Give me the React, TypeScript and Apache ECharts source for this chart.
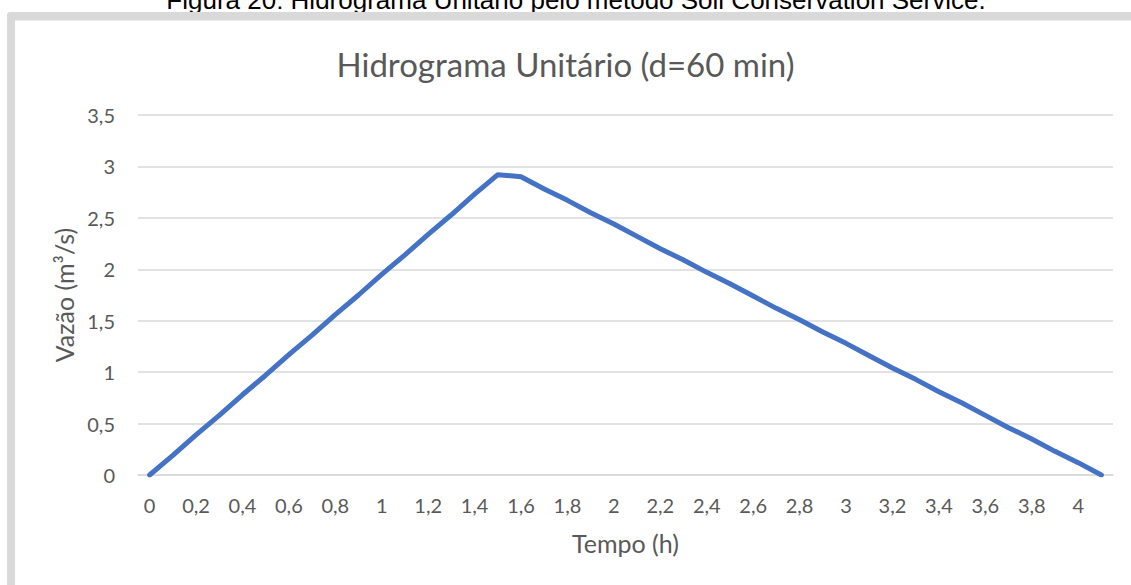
import React, { useEffect, useRef } from "react";
import * as echarts from "echarts";

const caption = "Figura 20: Hidrograma Unitário pelo método Soil Conservation Service.";
const chartTitle = "Hidrograma Unitário (d=60 min)";
const xName = "Tempo (h)";
const yName = "Vazão (m³/s)";

// time (h) categories, step 0.1
const times = [
  "0", "0,1", "0,2", "0,3", "0,4", "0,5", "0,6", "0,7", "0,8", "0,9",
  "1", "1,1", "1,2", "1,3", "1,4", "1,5", "1,6", "1,7", "1,8", "1,9",
  "2", "2,1", "2,2", "2,3", "2,4", "2,5", "2,6", "2,7", "2,8", "2,9",
  "3", "3,1", "3,2", "3,3", "3,4", "3,5", "3,6", "3,7", "3,8", "3,9",
  "4", "4,1",
];

// discharge (m³/s)
const flows = [
  0, 0.19, 0.39, 0.58, 0.78, 0.97, 1.17, 1.36, 1.56, 1.75,
  1.95, 2.14, 2.34, 2.53, 2.73, 2.92, 2.9, 2.78, 2.67, 2.55,
  2.44, 2.32, 2.2, 2.09, 1.97, 1.86, 1.74, 1.62, 1.51, 1.39,
  1.28, 1.16, 1.04, 0.93, 0.81, 0.7, 0.58, 0.46, 0.35, 0.23,
  0.12, 0,
];

const FONT = "Lato";

export default function App() {
  const ref = useRef<HTMLDivElement>(null);
  useEffect(() => {
    if (!ref.current) return;
    const chart = echarts.init(ref.current, null, { renderer: "svg" });
    chart.setOption({
      animation: false,
      backgroundColor: "#ffffff",
      title: {
        text: chartTitle,
        left: "center",
        top: 42,
        textStyle: { fontFamily: FONT, fontSize: 33, fontWeight: "normal", color: "#595959" },
      },
      graphic: [
        {
          type: "text",
          x: 576,
          y: 0,
          style: {
            text: caption,
            font: "26px 'Liberation Sans'",
            fill: "#000000",
            align: "center",
            verticalAlign: "middle",
          },
        },
        { type: "rect", shape: { x: 7, y: 12, width: 1130, height: 8.5, r: [4, 0, 0, 0] }, style: { fill: "#d9d9d9" } },
        { type: "rect", shape: { x: 7, y: 12, width: 8, height: 600, r: [4, 0, 0, 0] }, style: { fill: "#d9d9d9" } },
      ],
      grid: { left: 138, right: 18, top: 115, bottom: 110, containLabel: false },
      xAxis: {
        type: "category",
        data: times,
        boundaryGap: true,
        name: xName,
        nameLocation: "middle",
        nameGap: 55,
        nameTextStyle: { fontFamily: FONT, fontSize: 25, color: "#595959" },
        axisLine: { lineStyle: { color: "#d9d9d9", width: 1.5 } },
        axisTick: { show: false },
        axisLabel: { interval: 1, margin: 20, fontFamily: FONT, fontSize: 20, color: "#595959" },
        splitLine: { show: false },
      },
      yAxis: {
        type: "value",
        min: 0,
        max: 3.5,
        interval: 0.5,
        name: yName,
        nameLocation: "middle",
        nameGap: 62,
        nameRotate: 90,
        nameTextStyle: { fontFamily: FONT, fontSize: 25, color: "#595959" },
        axisLine: { show: false },
        axisTick: { show: false },
        axisLabel: {
          margin: 23,
          fontFamily: FONT,
          fontSize: 20,
          color: "#595959",
          formatter: (v: number) => String(v).replace(".", ","),
        },
        splitLine: { lineStyle: { color: "#d9d9d9", width: 1.5 } },
      },
      series: [
        {
          type: "line",
          data: flows,
          showSymbol: false,
          symbol: "none",
          lineStyle: { color: "#4472c4", width: 5, cap: "round", join: "round" },
        },
      ],
    });
    return () => chart.dispose();
  }, []);
  return (
    <div
      ref={ref}
      style={{ position: "fixed", left: 0, top: 0, width: 1131, height: 585, background: "#fff" }}
    />
  );
}
